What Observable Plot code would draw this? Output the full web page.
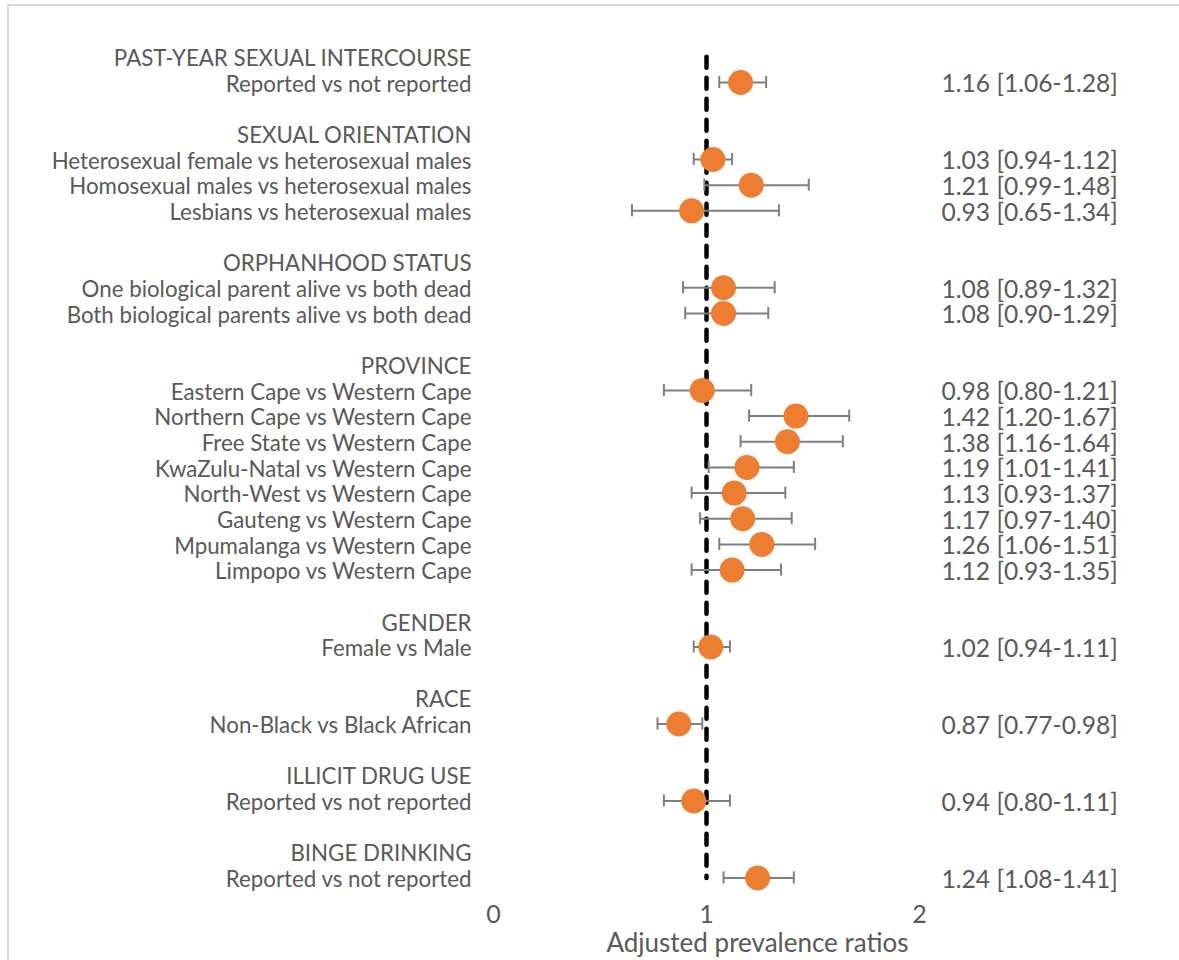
<!DOCTYPE html>
<html>
<head>
<meta charset="utf-8">
<script src="https://cdn.jsdelivr.net/npm/d3@7"></script>
<script src="https://cdn.jsdelivr.net/npm/@observablehq/plot@0.6"></script>
<style>
  html, body { margin: 0; padding: 0; background: #fff; }
  #wrap { position: relative; width: 1179px; height: 960px; overflow: hidden; }
  #edge { position: absolute; left: 7px; top: 4px; right: -10px; bottom: -10px;
          border-top: 2px solid #d9d9d9; border-left: 2px solid #d9d9d9; }
  #chart { position: absolute; left: 0; top: 0; }
</style>
</head>
<body>
<div id="wrap"><div id="edge"></div><div id="chart"></div></div>
<script>
// Factor groups and the comparisons within each group
const groups = [
  "PAST-YEAR SEXUAL INTERCOURSE",
  "SEXUAL ORIENTATION",
  "ORPHANHOOD STATUS",
  "PROVINCE",
  "GENDER",
  "RACE",
  "ILLICIT DRUG USE",
  "BINGE DRINKING"
];
const comparisons = [
  ["Reported vs not reported"],
  ["Heterosexual female vs heterosexual males",
   "Homosexual males vs heterosexual males",
   "Lesbians vs heterosexual males"],
  ["One biological parent alive vs both dead",
   "Both biological parents alive vs both dead"],
  ["Eastern Cape vs Western Cape",
   "Northern Cape vs Western Cape",
   "Free State vs Western Cape",
   "KwaZulu-Natal vs Western Cape",
   "North-West vs Western Cape",
   "Gauteng vs Western Cape",
   "Mpumalanga vs Western Cape",
   "Limpopo vs Western Cape"],
  ["Female vs Male"],
  ["Non-Black vs Black African"],
  ["Reported vs not reported"],
  ["Reported vs not reported"]
];
// Adjusted prevalence ratios with 95% confidence limits
const ratios = [[1.16], [1.03, 1.21, 0.93], [1.08, 1.08],
  [0.98, 1.42, 1.38, 1.19, 1.13, 1.17, 1.26, 1.12], [1.02], [0.87], [0.94], [1.24]];
const lowerCI = [[1.06], [0.94, 0.99, 0.65], [0.89, 0.90],
  [0.80, 1.20, 1.16, 1.01, 0.93, 0.97, 1.06, 0.93], [0.94], [0.77], [0.80], [1.08]];
const upperCI = [[1.28], [1.12, 1.48, 1.34], [1.32, 1.29],
  [1.21, 1.67, 1.64, 1.41, 1.37, 1.40, 1.51, 1.35], [1.11], [0.98], [1.11], [1.41]];
const xTicks = [0, 1, 2];
const referenceRatio = 1;
const axisTitle = "Adjusted prevalence ratios";

// One row per header, per comparison, and a spacer between groups
const rows = [];
groups.forEach((g, gi) => {
  rows.push({kind: "header", label: g});
  comparisons[gi].forEach((c, ci) => rows.push({
    kind: "item", label: c,
    apr: ratios[gi][ci], lo: lowerCI[gi][ci], hi: upperCI[gi][ci]
  }));
  if (gi < groups.length - 1) rows.push({kind: "blank", label: ""});
});
rows.forEach((r, i) => (r.row = i));
const items = rows.filter(r => r.kind === "item");
const f2 = d3.format(".2f");
const ciText = d => `${f2(d.apr)} [${f2(d.lo)}-${f2(d.hi)}]`;

const textColor = "#595959";
const barColor = "#7f7f7f";

const chart = Plot.plot({
  width: 1179,
  height: 960,
  marginLeft: 493,
  marginRight: 260,
  marginTop: 0,
  marginBottom: 64,
  style: {fontFamily: "Lato, sans-serif", fontSize: "25px", color: textColor, background: "transparent"},
  x: {domain: [0, 2], ticks: xTicks, tickFormat: d3.format("d"), tickSize: 0, tickPadding: 9, label: null},
  y: {type: "band", domain: rows.map(r => r.row), range: [43.5, 890.3], padding: 0, round: false, axis: null},
  marks: [
    // reference line at a ratio of 1
    Plot.line(rows, {x: () => referenceRatio, y: "row", stroke: "#000", strokeWidth: 4.5,
      strokeDasharray: "11,10", strokeLinecap: "round"}),
    // confidence intervals
    Plot.ruleY(items, {y: "row", x1: "lo", x2: "hi", stroke: barColor, strokeWidth: 2}),
    Plot.tickX(items, {x: "lo", y: "row", insetTop: 6.8, insetBottom: 6.8, stroke: barColor, strokeWidth: 2}),
    Plot.tickX(items, {x: "hi", y: "row", insetTop: 6.8, insetBottom: 6.8, stroke: barColor, strokeWidth: 2}),
    // point estimates
    Plot.dot(items, {x: "apr", y: "row", r: 12.5, fill: "#ED7D31", stroke: null}),
    // left-hand labels
    Plot.text(rows, {y: "row", text: "label", frameAnchor: "left", textAnchor: "end",
      dx: -22, dy: 2, fontSize: 22.3, fill: textColor}),
    // right-hand ratio [CI] labels
    Plot.text(items, {y: "row", text: ciText, frameAnchor: "right", textAnchor: "start",
      dx: 22, dy: 2, fontSize: 24.6, fill: textColor}),
    // axis title
    Plot.text([axisTitle], {frameAnchor: "bottom", dx: 51, dy: 55, fontSize: 26, fill: textColor})
  ]
});
document.getElementById("chart").appendChild(chart);
</script>
</body>
</html>
